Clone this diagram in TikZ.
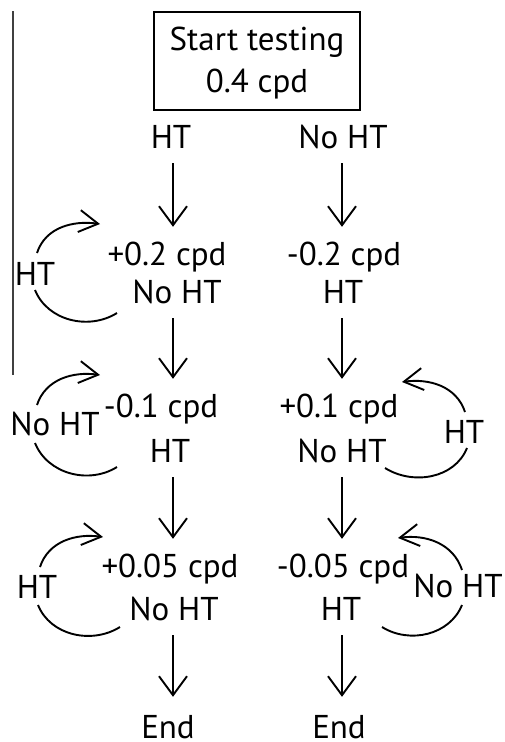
\documentclass[tikz,border=0pt]{standalone}
\usepackage{fontspec}
\setmainfont{PT Sans}
\usetikzlibrary{arrows.meta}
\begin{document}
\begin{tikzpicture}[x=1pt,y=1pt,
  lbl/.style={inner sep=0pt, anchor=base, font=\fontsize{33}{42}\selectfont, text height=22pt, text depth=0pt},
  down/.style={line width=1.9pt, -{Straight Barb[length=19pt,width=28pt]}, shorten <=15pt, shorten >=16pt},
  loop/.style={line width=1.9pt},
  looparr/.style={line width=1.9pt, -{Straight Barb[length=19pt,width=22pt]}}]
\useasboundingbox (0,0) rectangle (505,-742);
% left rule
\draw[line width=1.3pt, black!75] (13,-11) -- (13,-375);
% start box
\node[draw, line width=1.7pt, minimum width=206pt, minimum height=98pt] (start) at (257,-61) {};
\node[lbl] (st1) at (start.center |- 0,-50) {Start testing};
\node[lbl] (st2) at (start.center |- 0,-92) {0.4 cpd};
\coordinate (cL) at (173,0);
\coordinate (cR) at (342,0);
% column texts
\node[lbl] (l0) at (171,-148) {HT};
\node[lbl] (r0) at (343,-148) {No HT};
\node[lbl] (l1a) at (167,-265) {+0.2 cpd};
\node[lbl] (l1b) at (177,-303) {No HT};
\node[lbl] (r1a) at (344,-265) {-0.2 cpd};
\node[lbl] (r1b) at (343,-303) {HT};
\node[lbl] (l2a) at (161,-417) {-0.1 cpd};
\node[lbl] (l2b) at (170,-462) {HT};
\node[lbl] (r2a) at (339,-417) {+0.1 cpd};
\node[lbl] (r2b) at (342,-462) {No HT};
\node[lbl] (l3a) at (170,-577) {+0.05 cpd};
\node[lbl] (l3b) at (174,-620) {No HT};
\node[lbl] (r3a) at (343,-577) {-0.05 cpd};
\node[lbl] (r3b) at (341,-620) {HT};
\node[lbl] (l4) at (168,-738) {End};
\node[lbl] (r4) at (339,-738) {End};
% loop labels
\node[lbl] (ll1) at (35,-285) {HT};
\node[lbl] (ll2) at (55,-435) {No HT};
\node[lbl] (ll3) at (37,-598) {HT};
\node[lbl] (rl2) at (464,-443) {HT};
\node[lbl] (rl3) at (458,-597) {No HT};
% vertical arrows
\draw[down] (l0.south -| cL) -- (l1a.north -| cL);
\draw[down] (l1b.south -| cL) -- (l2a.north -| cL);
\draw[down] (l2b.south -| cL) -- (l3a.north -| cL);
\draw[down, shorten >=19pt] (l3b.south -| cL) -- (l4.north -| cL);
\draw[down] (r0.south -| cR) -- (r1a.north -| cR);
\draw[down] (r1b.south -| cR) -- (r2a.north -| cR);
\draw[down] (r2b.south -| cR) -- (r3a.north -| cR);
\draw[down, shorten >=19pt] (r3b.south -| cR) -- (r4.north -| cR);
% loops left
\draw[looparr] (37,-253) to[out=72,in=172] (100,-224);
\draw[loop] (35,-290) to[out=-68,in=212] (117,-313);
\draw[looparr] (37,-405) to[out=72,in=172] (100,-375);
\draw[loop] (35,-443) to[out=-68,in=212] (117,-467);
\draw[looparr] (40,-567) to[out=72,in=172] (103,-537);
\draw[loop] (38,-605) to[out=-68,in=212] (120,-627);
% loops right
\draw[looparr] (465,-412) to[out=108,in=8] (402,-382);
\draw[loop] (467,-448) to[out=-112,in=-32] (385,-468);
\draw[looparr] (462,-570) to[out=108,in=8] (398,-538);
\draw[loop] (462,-605) to[out=-112,in=-32] (382,-627);
\end{tikzpicture}
\end{document}
